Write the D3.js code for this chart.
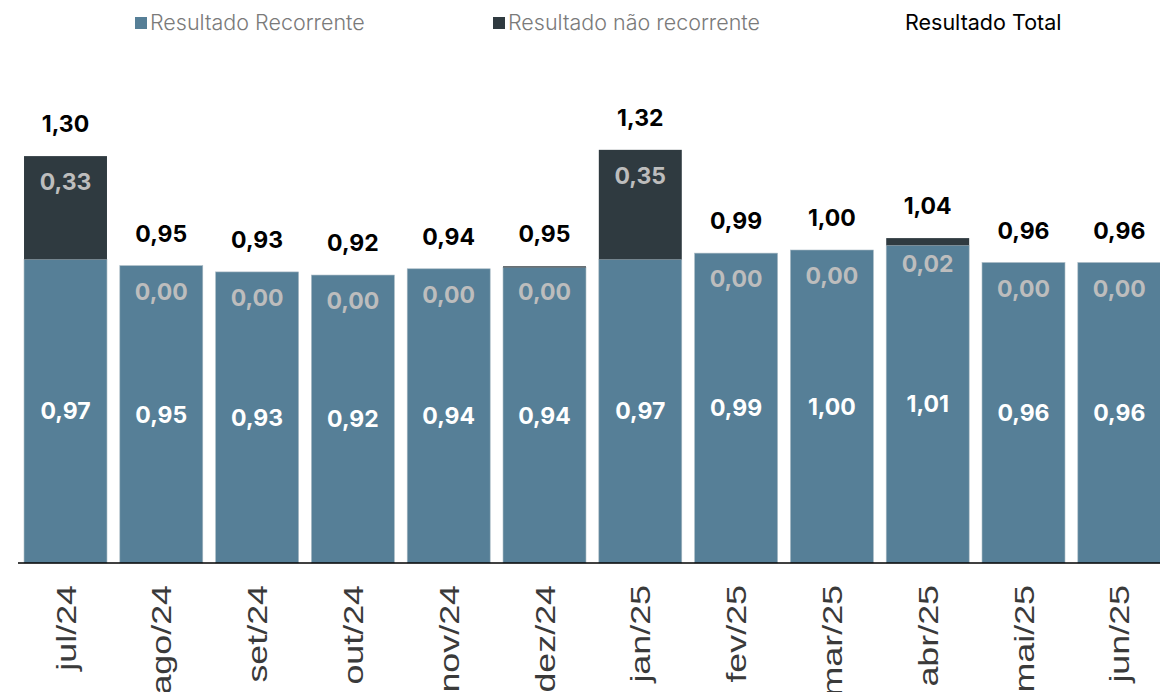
<!DOCTYPE html>
<html lang="pt-BR">
<head>
  <meta charset="UTF-8">
  <title>Resultado mensal</title>
  <style>
    body { margin: 0; background: #fff; overflow: hidden; }
    svg { display: block; }
  </style>
</head>
<body>
  <svg width="1160" height="692"></svg>
  <script src="https://d3js.org/d3.v7.min.js"></script>
  <script>
    // dados
    const meses = ["jul/24", "ago/24", "set/24", "out/24", "nov/24", "dez/24",
                   "jan/25", "fev/25", "mar/25", "abr/25", "mai/25", "jun/25"];
    const recorrente = [0.97, 0.95, 0.93, 0.92, 0.94, 0.944, 0.97, 0.99, 1.00, 1.015, 0.96, 0.96];
    const naoRecorrente = [0.33, 0.00, 0.00, 0.00, 0.00, 0.004, 0.35, 0.00, 0.00, 0.023, 0.00, 0.00];
    const total = [1.30, 0.95, 0.93, 0.92, 0.94, 0.95, 1.32, 0.99, 1.00, 1.04, 0.96, 0.96];

    const corRec = "#567f97";
    const corNao = "#2f3a40";

    const svg = d3.select("svg");
    const fmt = v => d3.format(".2f")(v).replace(".", ",");

    const data = meses.map((m, i) => ({
      mes: m, rec: recorrente[i], nao: naoRecorrente[i], tot: total[i]
    }));

    // escalas
    const x = d3.scaleBand()
      .domain(meses)
      .range([17.6, 1167.2])
      .paddingInner(0.134)
      .paddingOuter(0.067);

    const y = d3.scaleLinear()
      .domain([0, 1])
      .range([563, 250]);

    // barras recorrentes
    svg.append("g").selectAll("rect")
      .data(data)
      .enter()
      .append("rect")
      .attr("x", d => x(d.mes))
      .attr("width", x.bandwidth())
      .attr("y", d => y(d.rec))
      .attr("height", d => y(0) - y(d.rec))
      .attr("fill", corRec)
      .attr("stroke", "#a8b9c4")
      .attr("stroke-width", 0.6);

    // barras não recorrentes
    svg.append("g").selectAll("rect")
      .data(data)
      .enter()
      .append("rect")
      .attr("x", d => x(d.mes))
      .attr("width", x.bandwidth())
      .attr("y", d => y(d.rec + d.nao))
      .attr("height", d => y(d.rec) - y(d.rec + d.nao))
      .attr("fill", corNao);

    // eixo x
    svg.append("line")
      .attr("x1", 18).attr("x2", 1160)
      .attr("y1", 563).attr("y2", 563)
      .attr("stroke", "#000")
      .attr("stroke-width", 1.6);

    svg.append("g").selectAll("text")
      .data(data)
      .enter()
      .append("text")
      .attr("transform", d => `translate(${x(d.mes) + x.bandwidth() / 2},585) rotate(-90) scale(1.28,1)`)
      .attr("text-anchor", "end")
      .attr("dy", "0.36em")
      .attr("font-family", "Liberation Sans, Arial, sans-serif")
      .attr("font-size", 28)
      .attr("fill", "#3a3a3a")
      .text(d => d.mes);

    const numFont = "Inter, 'Open Sans', sans-serif";

    // rótulos recorrentes (centro do segmento)
    svg.append("g").selectAll("text")
      .data(data)
      .enter()
      .append("text")
      .attr("x", d => x(d.mes) + x.bandwidth() / 2)
      .attr("y", d => (y(0) + y(d.rec)) / 2)
      .attr("dy", "0.36em")
      .attr("text-anchor", "middle")
      .attr("font-family", numFont)
      .attr("font-weight", 700)
      .attr("font-size", 23)
      .attr("fill", "#fff")
      .text(d => fmt(d.rec));

    // rótulos não recorrentes
    svg.append("g").selectAll("text")
      .data(data)
      .enter()
      .append("text")
      .attr("x", d => x(d.mes) + x.bandwidth() / 2)
      .attr("y", d => y(d.rec + d.nao) + 34)
      .attr("text-anchor", "middle")
      .attr("font-family", numFont)
      .attr("font-weight", 700)
      .attr("font-size", 23)
      .attr("fill", "#bdbdbd")
      .text(d => fmt(d.nao));

    // rótulos do total
    svg.append("g").selectAll("text")
      .data(data)
      .enter()
      .append("text")
      .attr("x", d => x(d.mes) + x.bandwidth() / 2)
      .attr("y", d => y(d.rec + d.nao) - 24)
      .attr("text-anchor", "middle")
      .attr("font-family", numFont)
      .attr("font-weight", 700)
      .attr("font-size", 23)
      .attr("fill", "#000")
      .text(d => fmt(d.tot));

    // legenda
    const legenda = [
      { nome: "Resultado Recorrente", cor: corRec, x: 135, texto: "#7a7a7a", peso: 300 },
      { nome: "Resultado não recorrente", cor: corNao, x: 493, texto: "#7a7a7a", peso: 300 },
      { nome: "Resultado Total", cor: null, x: 890, texto: "#000", peso: 400 }
    ];
    const lg = svg.append("g").selectAll("g")
      .data(legenda)
      .enter()
      .append("g")
      .attr("transform", d => `translate(${d.x},0)`);
    lg.filter(d => d.cor)
      .append("rect")
      .attr("x", 0).attr("y", 17)
      .attr("width", 12).attr("height", 12)
      .attr("fill", d => d.cor);
    lg.append("text")
      .attr("x", 15)
      .attr("y", 30)
      .attr("font-family", "Inter, Roboto, sans-serif")
      .attr("font-weight", d => d.peso)
      .attr("font-size", 21.5)
      .attr("fill", d => d.texto)
      .text(d => d.nome);
  </script>
</body>
</html>
